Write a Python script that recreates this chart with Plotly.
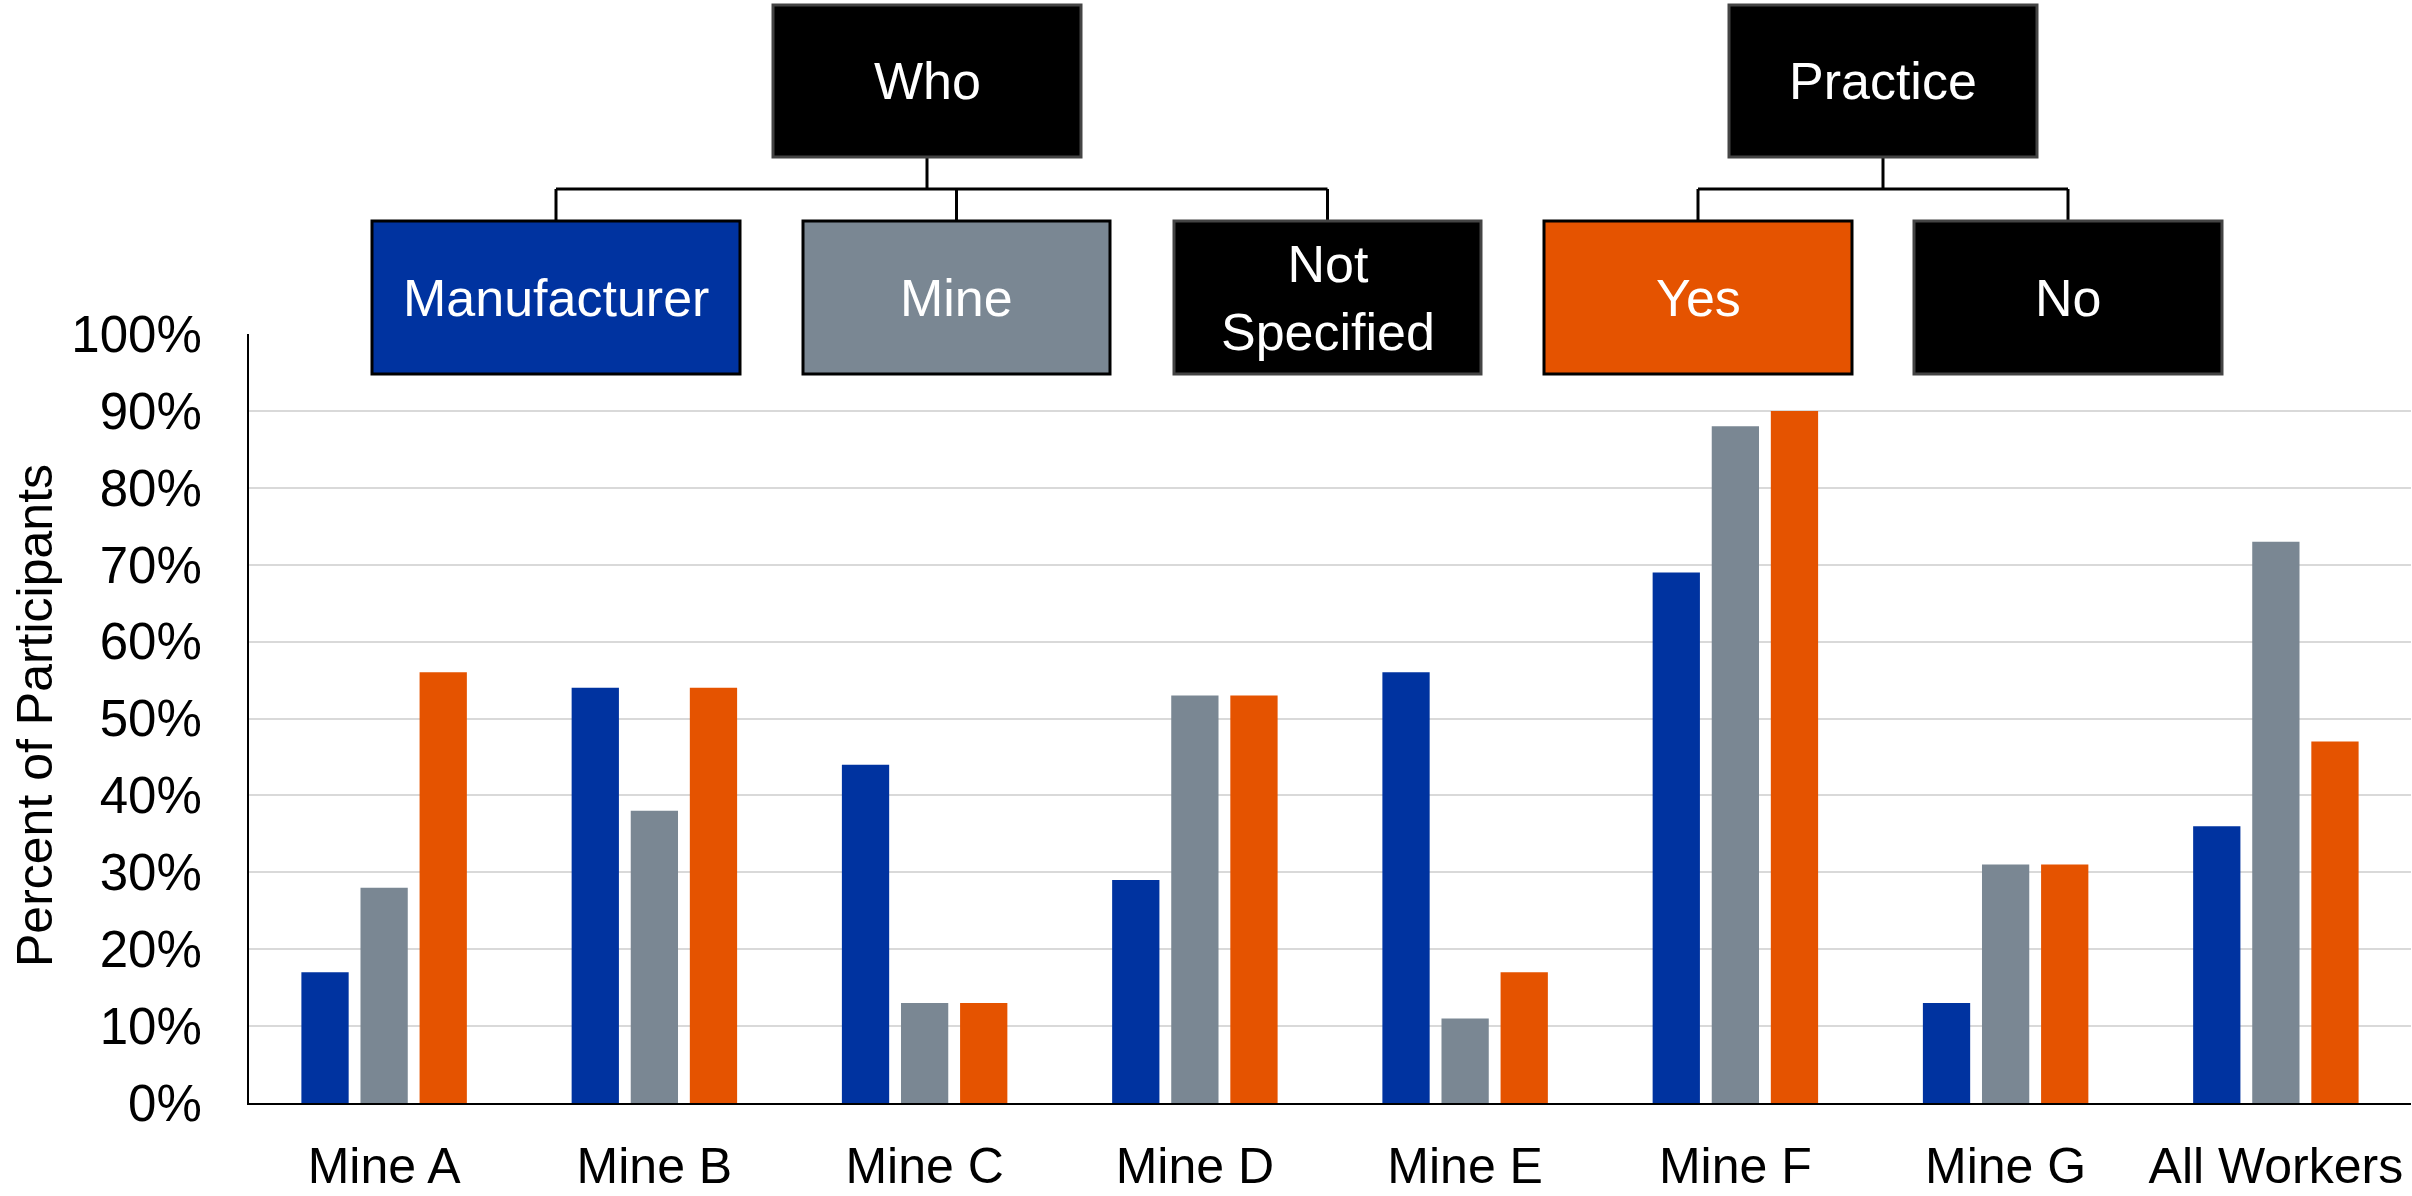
import plotly.graph_objects as go

# Survey results by site
categories = ["Mine A", "Mine B", "Mine C", "Mine D", "Mine E", "Mine F", "Mine G", "All Workers"]
manufacturer = [0.17, 0.54, 0.44, 0.29, 0.56, 0.69, 0.13, 0.36]
mine = [0.28, 0.38, 0.13, 0.53, 0.11, 0.88, 0.31, 0.73]
practice_yes = [0.56, 0.54, 0.13, 0.53, 0.17, 0.90, 0.31, 0.47]
y_ticks = [i / 10 for i in range(11)]
y_tick_labels = [f"{i * 10}%" for i in range(11)]

BLUE = "#0033A0"
GREY = "#7A8793"
ORANGE = "#E55300"
FONT = "Liberation Sans, Arial, Helvetica, sans-serif"

W, H = 2412, 1196
M_L, M_R, M_T, M_B = 249, 1, 334, 93
PW = W - M_L - M_R
PH = H - M_T - M_B


def px_x(x):
    """Pixel column -> paper x."""
    return (x - M_L) / PW


def px_y(y):
    """Pixel row -> paper y."""
    return (H - M_B - y) / PH


fig = go.Figure()
for name, vals, col in [("Manufacturer", manufacturer, BLUE),
                        ("Mine", mine, GREY),
                        ("Yes", practice_yes, ORANGE)]:
    fig.add_trace(go.Bar(x=categories, y=vals, name=name, marker_color=col,
                         marker_line_width=0))

fig.update_layout(
    width=W, height=H,
    margin=dict(l=M_L, r=M_R, t=M_T, b=M_B, pad=0),
    paper_bgcolor="white", plot_bgcolor="white",
    barmode="group", bargap=0.344, bargroupgap=0.2,
    showlegend=False,
    font=dict(family=FONT, size=50, color="black"),
)
fig.update_xaxes(
    showline=True, linecolor="black", linewidth=2, automargin=False,
    showgrid=False, ticks="", ticklabelstandoff=18,
    tickfont=dict(family=FONT, size=50, color="black"),
)
fig.update_yaxes(
    range=[0, 1], tickvals=y_ticks, ticktext=y_tick_labels, automargin=False,
    showline=True, linecolor="black", linewidth=2,
    showgrid=True, gridcolor="#D9D9D9", gridwidth=2,
    zeroline=False, ticks="", ticklabelstandoff=35,
    tickfont=dict(family=FONT, size=51, color="black"),
)

# Vertical axis title
fig.add_annotation(
    text="Percent of Participants", textangle=-90,
    xref="paper", yref="paper", x=px_x(35), y=px_y(716),
    xanchor="center", yanchor="middle", showarrow=False,
    font=dict(family=FONT, size=50, color="black"),
)

# Category tree drawn above the bars: (label, left, right, top, bottom, fill, border)
parent_boxes = [
    ("Who", 773, 1081, 5, 157, "black", "#444444"),
    ("Practice", 1729, 2037, 5, 157, "black", "#444444"),
]
child_boxes = [
    ("Manufacturer", 372, 740, 221, 374, BLUE, "black", 0),
    ("Mine", 803, 1110, 221, 374, GREY, "black", 0),
    ("Not<br>Specified", 1174, 1481, 221, 374, "black", "#444444", 0),
    ("Yes", 1544, 1852, 221, 374, ORANGE, "black", 1),
    ("No", 1914, 2222, 221, 374, "black", "#444444", 1),
]
BRANCH_Y = 189

shapes = []
annotations = []


def add_box(label, x0, x1, y0, y1, fill, border):
    shapes.append(dict(type="rect", xref="paper", yref="paper",
                       x0=px_x(x0), x1=px_x(x1), y0=px_y(y1), y1=px_y(y0),
                       fillcolor=fill, line=dict(color=border, width=3),
                       layer="above"))
    annotations.append(dict(text=label, xref="paper", yref="paper",
                            x=px_x((x0 + x1) / 2), y=px_y((y0 + y1) / 2),
                            xanchor="center", yanchor="middle", showarrow=False,
                            font=dict(family=FONT, size=52, color="white")))


def add_line(x0, y0, x1, y1):
    shapes.append(dict(type="line", xref="paper", yref="paper",
                       x0=px_x(x0), x1=px_x(x1), y0=px_y(y0), y1=px_y(y1),
                       line=dict(color="black", width=3), layer="above"))


for p_idx, (label, x0, x1, y0, y1, fill, border) in enumerate(parent_boxes):
    kids = [c for c in child_boxes if c[7] == p_idx]
    centers = [(c[1] + c[2]) / 2 for c in kids]
    pc = (x0 + x1) / 2
    add_line(pc, y1, pc, BRANCH_Y)
    add_line(min(centers), BRANCH_Y, max(centers), BRANCH_Y)
    for c, cx in zip(kids, centers):
        add_line(cx, BRANCH_Y, cx, c[3])
    add_box(label, x0, x1, y0, y1, fill, border)

for label, x0, x1, y0, y1, fill, border, _ in child_boxes:
    add_box(label, x0, x1, y0, y1, fill, border)

fig.update_layout(shapes=shapes, annotations=list(fig.layout.annotations) + annotations)

fig.write_html("out.html")
